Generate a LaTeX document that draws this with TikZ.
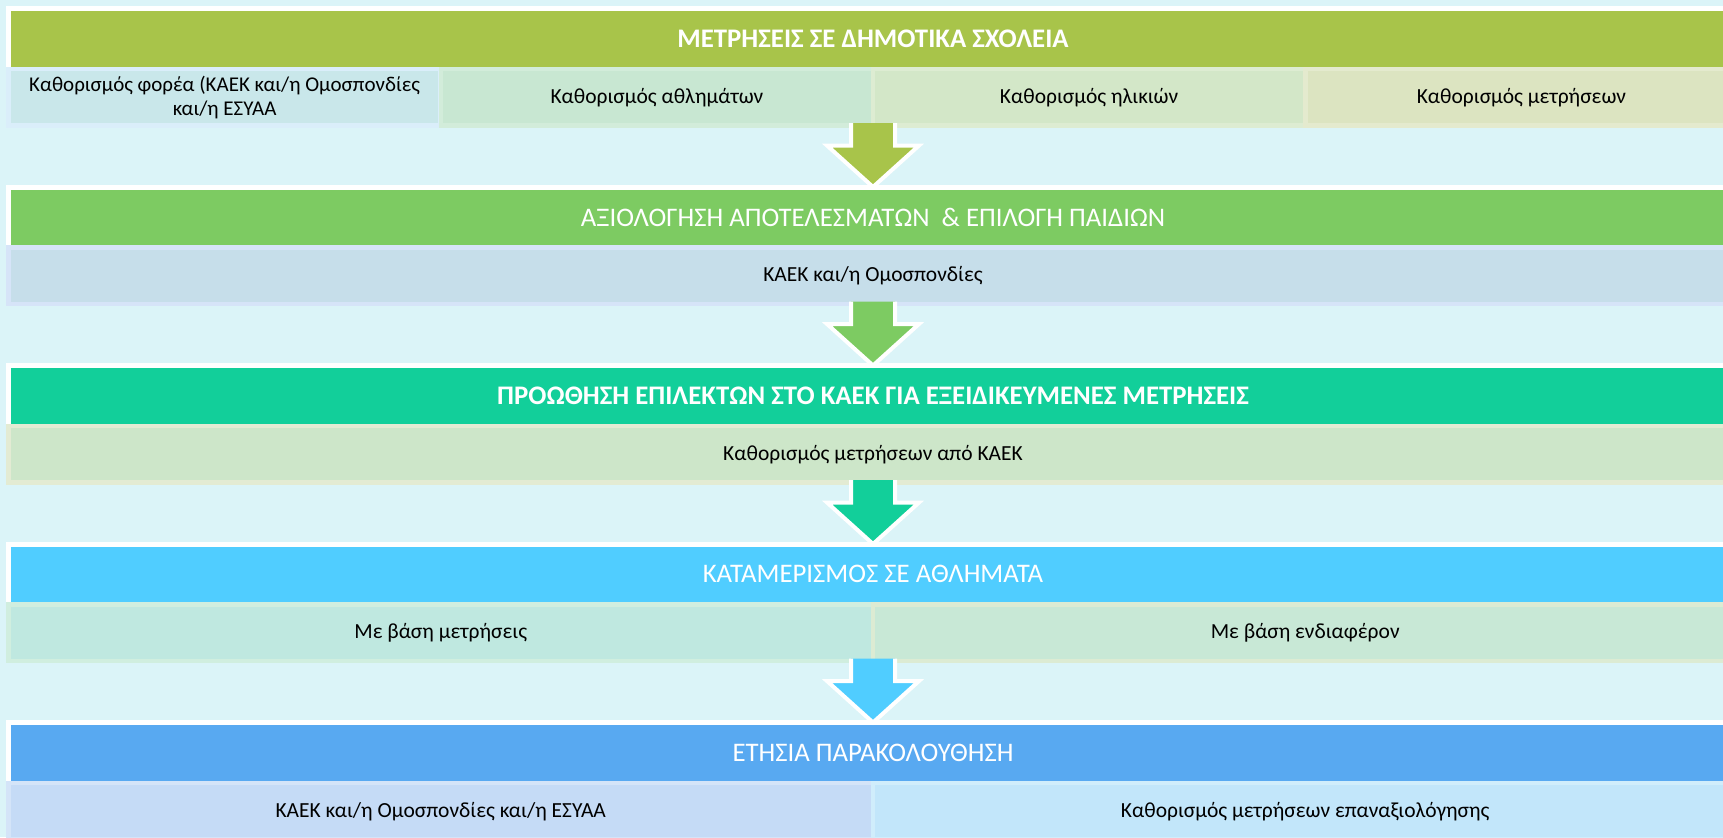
\documentclass[tikz,border=0pt]{standalone}
\usepackage{fontspec}
\usepackage{graphicx}
\setmainfont{Carlito}
\usetikzlibrary{calc}

\definecolor{bgc}{HTML}{DBF4F8}
\definecolor{hOne}{HTML}{A8C44A}
\definecolor{hTwo}{HTML}{7DCB62}
\definecolor{hThree}{HTML}{12CF9A}
\definecolor{hFour}{HTML}{50CDFF}
\definecolor{hFive}{HTML}{58A9F1}

\begin{document}
\begin{tikzpicture}[x=0.5pt, y=-0.5pt,
    hdr/.style = {draw=white, line width=2.5pt, inner sep=0pt, outer sep=0pt, minimum width=864.5pt, minimum height=30.25pt, text=white, font=\fontsize{13.4}{16}\selectfont},
    cell/.style = {line width=2.25pt, inner sep=0pt, outer sep=0pt, minimum height=28.25pt, font=\fontsize{10.75}{12}\selectfont, align=center},
    quarter/.style = {cell, minimum width=216.125pt},
    half/.style = {cell, minimum width=432.25pt},
    whole/.style = {cell, minimum width=864.5pt},
    flow/.style = {draw=white, line width=2pt, line join=miter}]
% page and background
\fill[bgc] (0,0) rectangle (1723,837);
\useasboundingbox (0,0) rectangle (1723,837);

    \node[hdr, fill=hOne] (h1) at (873,38.75) {\bfseries ΜΕΤΡΗΣΕΙΣ ΣΕ ΔΗΜΟΤΙΚΑ ΣΧΟΛΕΙΑ};
    \node[quarter, fill={rgb,255:red,201;green,231;blue,234}, draw={rgb,255:red,218;green,238;blue,250}, font=\fontsize{10.5}{12}\selectfont] (s11) at (224.6,97.25) {Καθορισμός φορέα (ΚΑΕΚ και/η Ομοσπονδίες\\και/η ΕΣΥΑΑ};
    \node[quarter, fill={rgb,255:red,200;green,231;blue,210}, draw={rgb,255:red,210;green,236;blue,218}] (s12) at (656.9,97.25) {Καθορισμός αθλημάτων};
    \node[quarter, fill={rgb,255:red,211;green,231;blue,200}, draw={rgb,255:red,221;green,236;blue,210}] (s13) at (1089.1,97.25) {Καθορισμός ηλικιών};
    \node[quarter, fill={rgb,255:red,220;green,228;blue,193}, draw={rgb,255:red,228;green,234;blue,206}] (s14) at (1521.4,97.25) {Καθορισμός μετρήσεων};

    \node[hdr, fill=hTwo] (h2) at (873,217.25) {ΑΞΙΟΛΟΓΗΣΗ ΑΠΟΤΕΛΕΣΜΑΤΩΝ\ \ \& ΕΠΙΛΟΓΗ ΠΑΙΔΙΩΝ};
    \node[whole, fill={rgb,255:red,198;green,222;blue,234}, draw={rgb,255:red,214;green,228;blue,248}] (s2) at (873,275.75) {ΚΑΕΚ και/η Ομοσπονδίες};

    \node[hdr, fill=hThree] (h3) at (873,395.75) {\bfseries ΠΡΟΩΘΗΣΗ ΕΠΙΛΕΚΤΩΝ ΣΤΟ ΚΑΕΚ ΓΙΑ ΕΞΕΙΔΙΚΕΥΜΕΝΕΣ ΜΕΤΡΗΣΕΙΣ};
    \node[whole, fill={rgb,255:red,205;green,230;blue,201}, draw={rgb,255:red,227;green,235;blue,211}] (s3) at (873,454.25) {Καθορισμός μετρήσεων από ΚΑΕΚ};

    \node[hdr, fill=hFour] (h4) at (873,574.25) {ΚΑΤΑΜΕΡΙΣΜΟΣ ΣΕ ΑΘΛΗΜΑΤΑ};
    \node[half, fill={rgb,255:red,191;green,232;blue,224}, draw={rgb,255:red,208;green,238;blue,223}] (s41) at (440.75,632.75) {Με βάση μετρήσεις};
    \node[half, fill={rgb,255:red,200;green,232;blue,214}, draw={rgb,255:red,220;green,235;blue,211}] (s42) at (1305.25,632.75) {Με βάση ενδιαφέρον};

    \node[hdr, fill=hFive] (h5) at (873,752.75) {ΕΤΗΣΙΑ ΠΑΡΑΚΟΛΟΥΘΗΣΗ};
    \node[half, fill={rgb,255:red,197;green,219;blue,246}, draw={rgb,255:red,212;green,228;blue,248}] (s51) at (440.75,811.25) {ΚΑΕΚ και/η Ομοσπονδίες και/η ΕΣΥΑΑ};
    \node[half, fill={rgb,255:red,194;green,230;blue,250}, draw={rgb,255:red,208;green,237;blue,251}] (s52) at (1305.25,811.25) {Καθορισμός μετρήσεων επαναξιολόγησης};

% arrows between the stages
\foreach \up/\down/\col in {s13/h2/hOne, s2/h3/hTwo, s3/h4/hThree, s42/h5/hFour}
    \filldraw[flow, fill=\col] ($(\down.north |- \up.south)+(22,-2.5)$) -- ($(\down.north |- \up.south)+(22,20)$)
        -- ($(\down.north |- \up.south)+(46,20)$) -- (\down.north)
        -- ($(\down.north |- \up.south)+(-46,20)$) -- ($(\down.north |- \up.south)+(-22,20)$)
        -- ($(\down.north |- \up.south)+(-22,-2.5)$);
\end{tikzpicture}
\end{document}
